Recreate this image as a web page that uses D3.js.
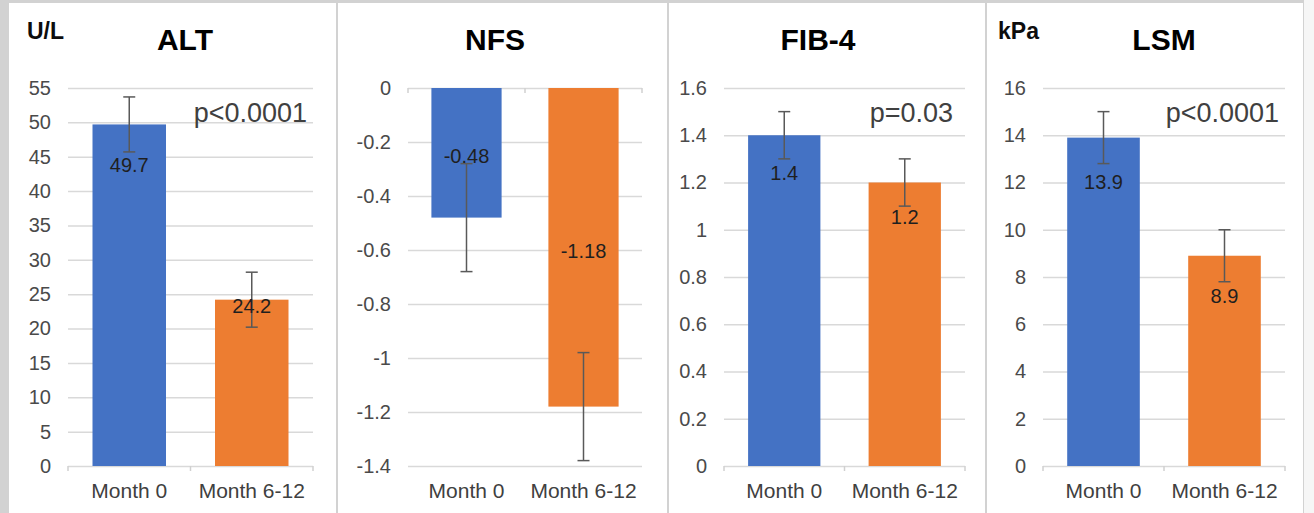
<!DOCTYPE html>
<html>
<head>
<meta charset="utf-8">
<script src="https://cdn.jsdelivr.net/npm/d3@7"></script>
<style>
  body { margin: 0; background: #fff; }
  svg { display: block; font-family: "Liberation Sans", Arial, sans-serif; }
</style>
</head>
<body>
<svg id="chart" width="1314" height="513"></svg>
<script>
// ---- data ----
var categories = ["Month 0", "Month 6-12"];
var titles = ["ALT", "NFS", "FIB-4", "LSM"];
var units = ["U/L", "", "", "kPa"];
var pLabels = ["p<0.0001", "", "p=0.03", "p<0.0001"];

var altValues = [49.7, 24.2], altErrors = [4, 4];
var nfsValues = [-0.48, -1.18], nfsErrors = [0.2, 0.2];
var fibValues = [1.4, 1.2], fibErrors = [0.1, 0.1];
var lsmValues = [13.9, 8.9], lsmErrors = [1.1, 1.1];

var altTicks = [0, 5, 10, 15, 20, 25, 30, 35, 40, 45, 50, 55];
var nfsTicks = [0, -0.2, -0.4, -0.6, -0.8, -1, -1.2, -1.4];
var fibTicks = [0, 0.2, 0.4, 0.6, 0.8, 1, 1.2, 1.4, 1.6];
var lsmTicks = [0, 2, 4, 6, 8, 10, 12, 14, 16];

var colors = ["#4472C4", "#ED7D31"];

// ---- layout (pixels) ----
var plotTop = 88, plotBottom = 466;
var panels = [
  {x: 9,   w: 327, gl: 68,   gr: 313,  tx: 185,  ux: 27,   pr: 307,  values: altValues, errors: altErrors, ticks: altTicks, domain: [0, 55],   dy: [41, 6]},
  {x: 338, w: 329, gl: 408,  gr: 642,  tx: 495,  ux: 0,    pr: 0,    values: nfsValues, errors: nfsErrors, ticks: nfsTicks, domain: [-1.4, 0], dy: [-62, -156]},
  {x: 669, w: 316, gl: 724,  gr: 965,  tx: 818,  ux: 0,    pr: 953,  values: fibValues, errors: fibErrors, ticks: fibTicks, domain: [0, 1.6],  dy: [38, 34]},
  {x: 987, w: 316, gl: 1043, gr: 1285, tx: 1164, ux: 998,  pr: 1279, values: lsmValues, errors: lsmErrors, ticks: lsmTicks, domain: [0, 16],   dy: [44, 40]}
];

var svg = d3.select("#chart");

svg.append("rect").attr("width", 1314).attr("height", 513).attr("fill", "#d2d2d2");
svg.append("rect").attr("x", 1304).attr("width", 10).attr("height", 513).attr("fill", "#f6f6f6");

panels.forEach(function(p, i) {
  svg.append("rect")
      .attr("x", p.x).attr("y", 3)
      .attr("width", p.w).attr("height", 520)
      .attr("fill", "#fff");

  var g = svg.append("g");

  var y = d3.scaleLinear().domain(p.domain).range([plotBottom, plotTop]);
  var x = d3.scaleBand().domain(categories)
      .range([p.gl, p.gr])
      .paddingInner(0.4).paddingOuter(0.2);

  // gridlines + tick labels
  var yAxis = g.append("g")
      .attr("transform", "translate(" + p.gl + ",0)")
      .call(d3.axisLeft(y)
        .tickValues(p.ticks)
        .tickSize(-(p.gr - p.gl))
        .tickPadding(17)
        .tickFormat(function(d) { return String(d); }));
  yAxis.select(".domain").remove();
  yAxis.selectAll(".tick line").attr("stroke", "#d9d9d9").attr("stroke-width", 1.5);
  yAxis.selectAll("text")
      .attr("fill", "#4a4a4a")
      .style("font-size", "20px")
      .style("font-family", "'Liberation Sans', Arial, sans-serif");

  // category axis tick marks at zero
  var y0 = y(0);
  var marks = [p.gl, p.gl + x.step(), p.gr];
  g.selectAll(".cat-tick")
    .data(marks)
    .enter().append("line")
      .attr("x1", function(d) { return d; })
      .attr("x2", function(d) { return d; })
      .attr("y1", y0).attr("y2", y0 + 5)
      .attr("stroke", "#d0d0d0").attr("stroke-width", 1.5);

  // bars
  g.selectAll(".bar")
    .data(p.values)
    .enter().append("rect")
      .attr("x", function(d, j) { return x(categories[j]); })
      .attr("width", x.bandwidth())
      .attr("y", function(d) { return Math.min(y(d), y0); })
      .attr("height", function(d) { return Math.abs(y(d) - y0); })
      .attr("fill", function(d, j) { return colors[j]; });

  // error bars
  p.values.forEach(function(v, j) {
    var cx = x(categories[j]) + x.bandwidth() / 2;
    var hi = y(v + p.errors[j]), lo = y(v - p.errors[j]);
    g.append("line")
        .attr("x1", cx).attr("x2", cx).attr("y1", hi).attr("y2", lo)
        .attr("stroke", "#595959").attr("stroke-width", 1.5);
    [hi, lo].forEach(function(yy) {
      g.append("line")
          .attr("x1", cx - 6).attr("x2", cx + 6).attr("y1", yy).attr("y2", yy)
          .attr("stroke", "#595959").attr("stroke-width", 1.5);
    });
  });

  // data labels
  g.selectAll(".val")
    .data(p.values)
    .enter().append("text")
      .attr("x", function(d, j) { return x(categories[j]) + x.bandwidth() / 2; })
      .attr("y", function(d, j) { return y(d) + p.dy[j]; })
      .attr("text-anchor", "middle")
      .attr("dominant-baseline", "central")
      .attr("fill", "#1f1f1f")
      .style("font-size", "20px")
      .text(function(d) { return String(d); });

  // category labels
  var xAxis = g.append("g")
      .attr("transform", "translate(0," + plotBottom + ")")
      .call(d3.axisBottom(x).tickSize(0));
  xAxis.select(".domain").remove();
  xAxis.selectAll("text")
      .attr("y", 32).attr("dy", null)
      .attr("fill", "#404040")
      .style("font-size", "21px")
      .style("font-family", "'Liberation Sans', Arial, sans-serif");

  // title
  g.append("text")
      .attr("x", p.tx).attr("y", 50)
      .attr("text-anchor", "middle")
      .attr("font-weight", "bold")
      .style("font-size", "30px")
      .attr("fill", "#000")
      .text(titles[i]);

  if (units[i]) {
    g.append("text")
        .attr("x", p.ux).attr("y", 39)
        .attr("font-weight", "bold")
        .style("font-size", "23px")
        .attr("fill", "#0d0d0d")
        .text(units[i]);
  }

  if (pLabels[i]) {
    g.append("text")
        .attr("x", p.pr).attr("y", 122)
        .attr("text-anchor", "end")
        .style("font-size", "27px")
        .attr("fill", "#404040")
        .text(pLabels[i]);
  }
});
</script>
</body>
</html>
